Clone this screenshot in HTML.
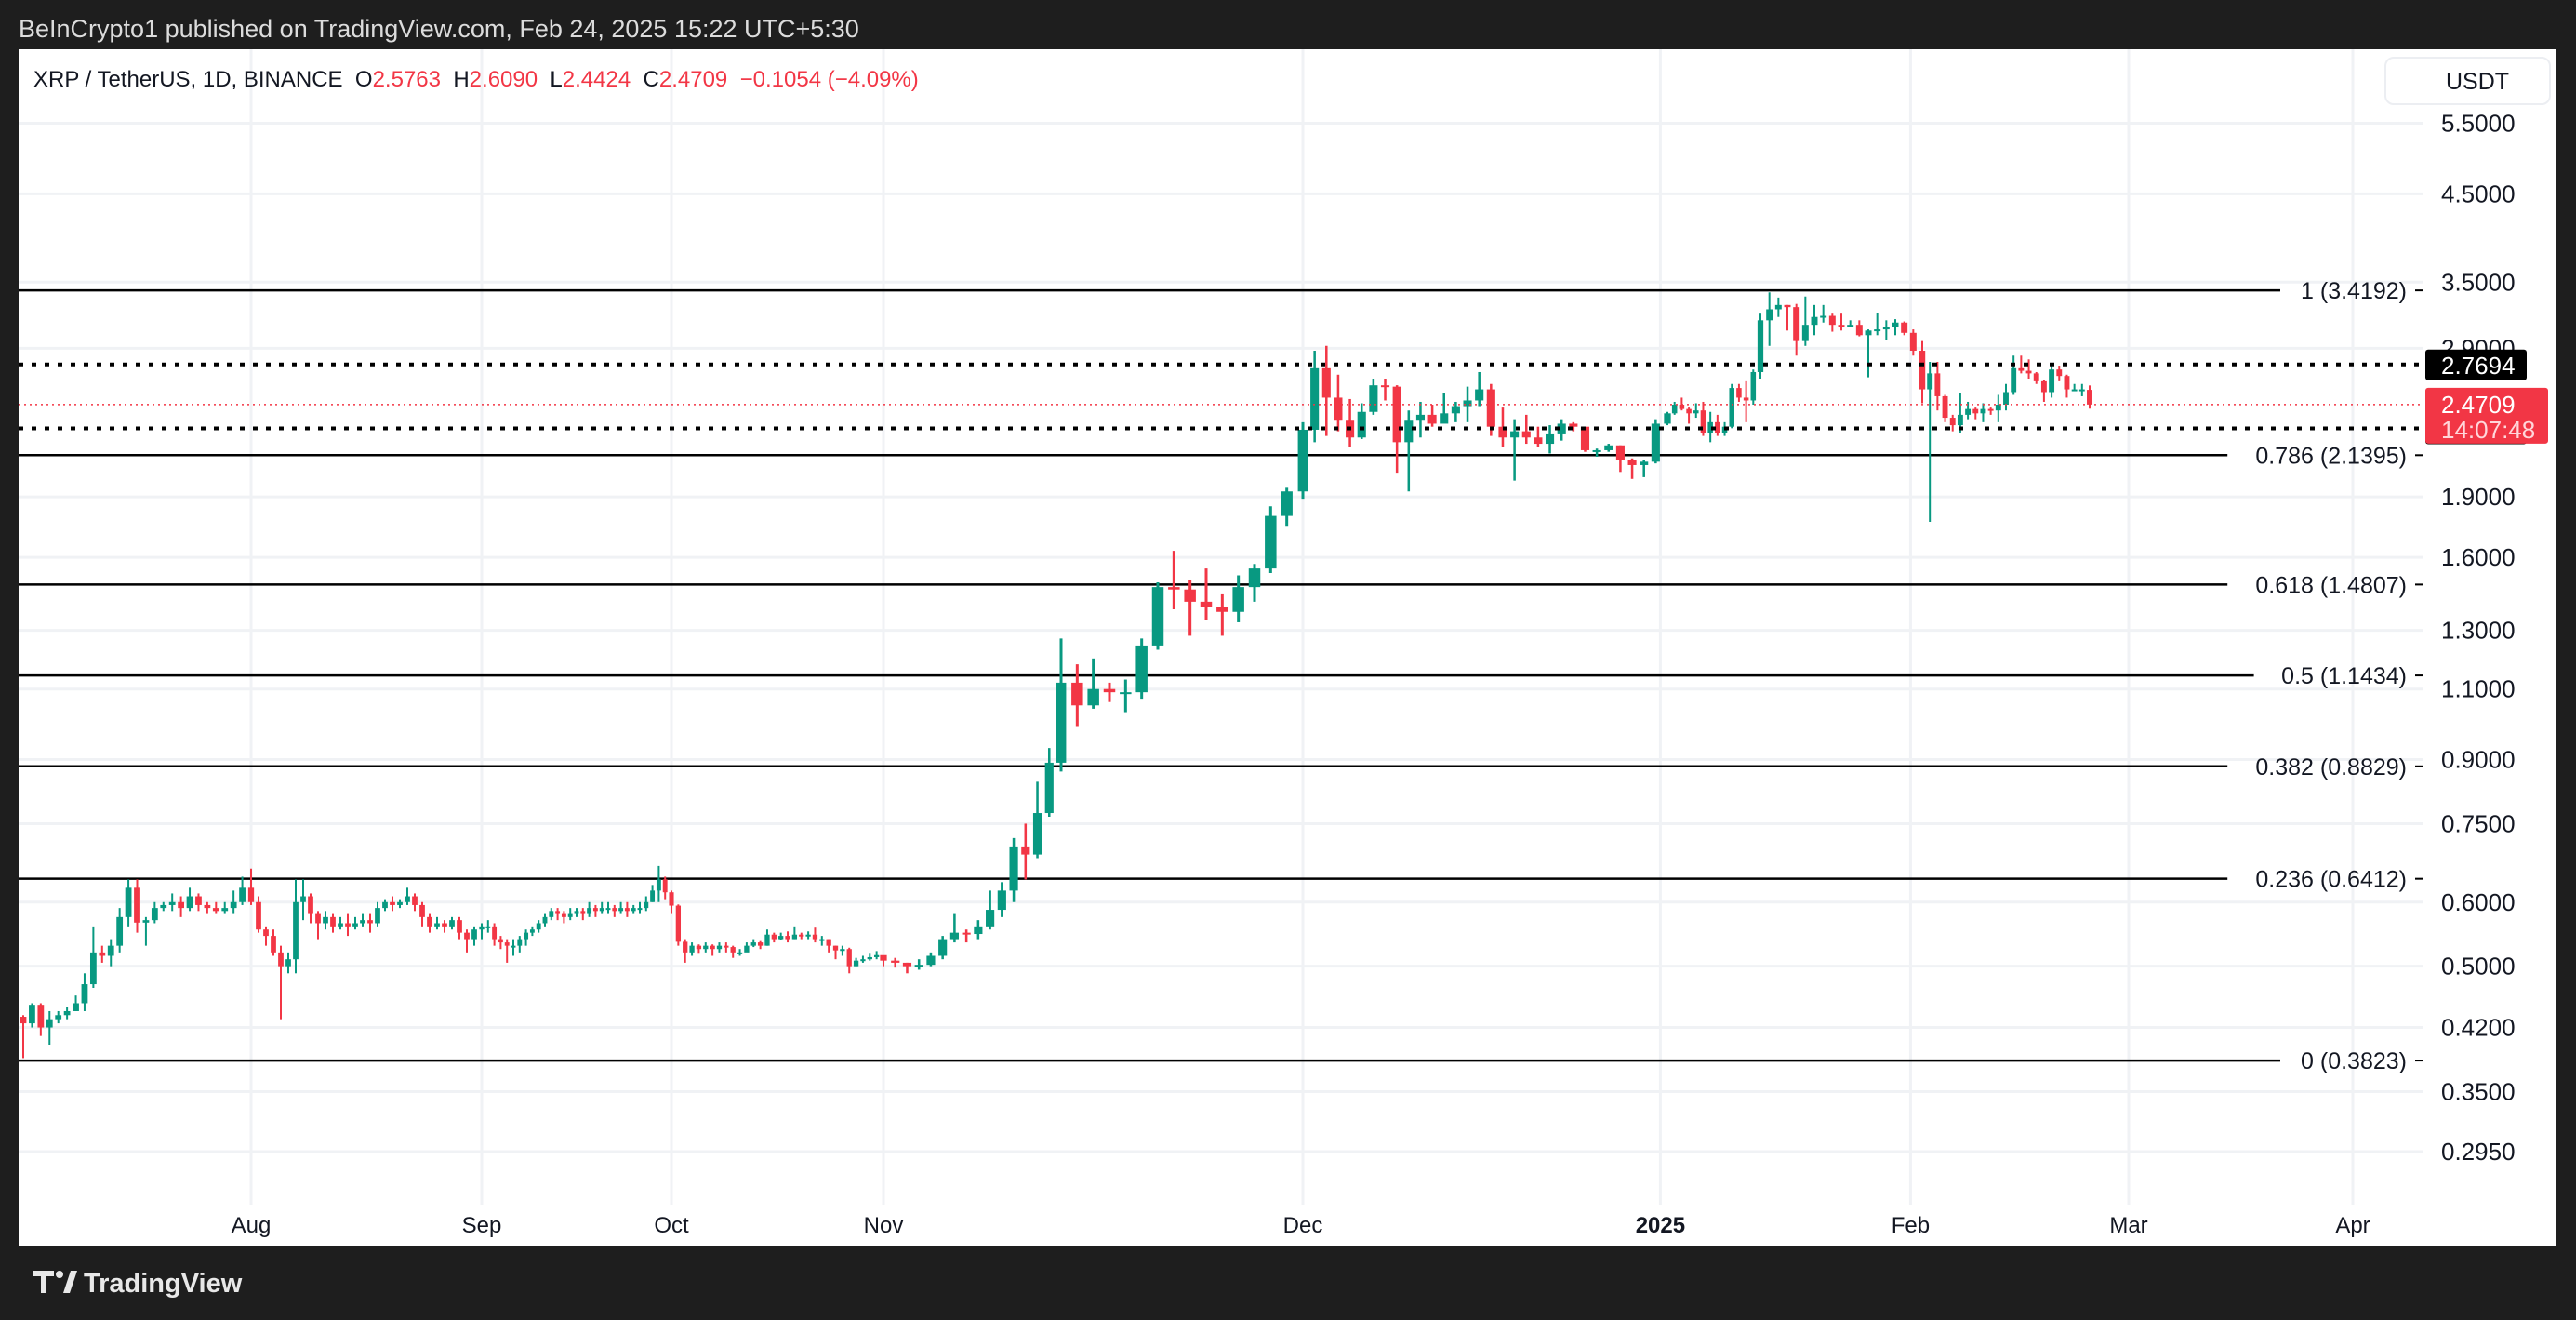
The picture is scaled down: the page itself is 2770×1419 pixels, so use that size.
<!DOCTYPE html>
<html><head><meta charset="utf-8"><style>
html,body{margin:0;padding:0;background:#1e1e1e;}
body{width:2770px;height:1414px;overflow:hidden;font-family:"Liberation Sans",sans-serif;}
svg text{font-family:"Liberation Sans",sans-serif;}
</style></head><body>
<svg id="chart" width="2770" height="1414" viewBox="0 0 2770 1414" xmlns="http://www.w3.org/2000/svg">
<rect x="0" y="0" width="2770" height="1414" fill="#1e1e1e"/>
<text x="20" y="40" font-size="27" fill="#dcdcdc">BeInCrypto1 published on TradingView.com, Feb 24, 2025 15:22 UTC+5:30</text>
<rect x="20" y="53" width="2729" height="1286" fill="#ffffff"/>
<g id="grid"></g>
<g id="fibs"></g>
<g id="candles"></g>
<g id="overlay"></g>
<g id="axis"></g>
<g id="taxis"></g>
<text x="36" y="93" font-size="24" fill="#131722" xml:space="preserve" style="white-space:pre">XRP / TetherUS, 1D, BINANCE  <tspan fill="#131722">O</tspan><tspan fill="#f23645">2.5763</tspan>  <tspan fill="#131722">H</tspan><tspan fill="#f23645">2.6090</tspan>  <tspan fill="#131722">L</tspan><tspan fill="#f23645">2.4424</tspan>  <tspan fill="#131722">C</tspan><tspan fill="#f23645">2.4709  −0.1054 (−4.09%)</tspan></text>
<rect x="2565" y="62" width="177" height="50" rx="9" fill="#fff" stroke="#eceef2" stroke-width="2"/>
<text x="2630" y="96" font-size="25" fill="#131722">USDT</text>
<g>
<path d="M36 1366 h22 v6 h-8 v18 h-6 v-18 h-8z" fill="#e8e8e8"/>
<circle cx="64" cy="1370" r="4" fill="#e8e8e8"/>
<path d="M68 1390 l8-24 h7 l-8 24z" fill="#e8e8e8"/>
<text x="90" y="1389" font-size="29" font-weight="bold" fill="#e8e8e8">TradingView</text>
</g>
</svg>
<script>
// ---- data ----
const opens0 = [0.433];
const closes = [
0.425,0.448,0.42,0.43,0.435,0.44,0.45,0.475,0.52,0.515,0.53,0.575,0.625,0.566,0.57,0.59,0.595,0.60,0.59,0.61,0.595,0.59,0.585,0.59,0.60,0.625,
0.60,0.555,0.545,0.52,0.50,0.51,0.60,0.61,0.58,0.565,0.575,0.56,0.565,0.56,0.565,0.57,0.565,0.59,0.60,0.595,0.60,0.61,0.595,0.575,0.56,0.565,0.56,0.57,0.55,0.54,0.555,
0.56,0.56,0.54,0.535,0.53,0.53,0.54,0.55,0.555,0.565,0.575,0.585,0.58,0.575,0.58,0.585,0.58,0.59,0.585,0.59,0.59,0.585,0.59,0.585,0.59,0.59,0.60,0.62,0.64,0.617,
0.594,0.536,0.52,0.53,0.525,0.53,0.525,0.53,0.528,0.52,0.52,0.53,0.535,0.53,0.547,0.54,0.545,0.54,0.547,0.545,0.547,0.54,0.54,0.53,0.523,0.525,0.50,0.508,0.51,0.513,0.516,
0.508,0.505,0.50,0.502,0.515,0.54,0.55,0.548,0.56,0.587,0.62,0.703,0.687,0.773,0.892,1.12,1.05,1.10,1.09,1.09,1.245,1.47,1.46,1.41,1.39,1.37,1.47,1.55,1.80,1.93,
2.30,2.74,2.52,2.36,2.25,2.42,2.61,2.60,2.22,2.36,2.40,2.34,2.41,2.46,2.50,2.58,2.32,2.25,2.29,2.25,2.21,2.27,2.34,2.32,2.17,2.17,2.20,2.11,2.08,2.10,2.34,
2.41,2.47,2.44,2.41,2.43,2.28,2.35,2.28,2.32,2.59,2.52,2.50,2.71,3.14,3.24,3.28,3.26,2.96,3.10,3.17,3.18,3.10,3.09,3.10,3.01,3.05,3.06,3.08,3.12,3.03,2.88,
2.58,2.70,2.53,2.38,2.33,2.40,2.44,2.41,2.44,2.43,2.47,2.56,2.74,2.72,2.70,2.64,2.56,2.73,2.68,2.58,2.58,2.58,2.4709];
const highs = [
0.435,0.45,0.45,0.44,0.44,0.445,0.46,0.49,0.56,0.53,0.54,0.59,0.64,0.64,0.575,0.60,0.60,0.615,0.61,0.625,0.615,0.60,0.60,0.60,0.62,0.645,
0.66,0.61,0.56,0.555,0.53,0.52,0.64,0.64,0.615,0.585,0.585,0.58,0.575,0.58,0.575,0.58,0.58,0.60,0.605,0.61,0.605,0.625,0.615,0.60,0.58,0.575,0.57,0.575,0.575,0.555,0.56,
0.565,0.57,0.565,0.545,0.54,0.54,0.545,0.555,0.56,0.57,0.58,0.59,0.59,0.585,0.59,0.59,0.59,0.60,0.595,0.60,0.60,0.595,0.60,0.60,0.595,0.60,0.61,0.63,0.665,0.645,
0.62,0.596,0.54,0.535,0.532,0.535,0.532,0.535,0.535,0.53,0.525,0.535,0.54,0.537,0.555,0.55,0.55,0.552,0.56,0.55,0.552,0.558,0.545,0.54,0.53,0.53,0.527,0.512,0.515,0.518,0.522,
0.515,0.512,0.505,0.51,0.52,0.545,0.58,0.555,0.57,0.62,0.635,0.72,0.75,0.845,0.93,1.27,1.18,1.20,1.12,1.13,1.27,1.49,1.63,1.50,1.55,1.44,1.52,1.57,1.85,1.95,
2.35,2.88,2.92,2.69,2.51,2.48,2.66,2.66,2.61,2.43,2.49,2.47,2.55,2.49,2.60,2.71,2.62,2.45,2.37,2.40,2.32,2.33,2.37,2.35,2.31,2.18,2.21,2.20,2.12,2.11,2.37,
2.42,2.49,2.52,2.45,2.48,2.49,2.42,2.40,2.35,2.62,2.62,2.64,2.73,3.20,3.40,3.35,3.28,3.29,3.36,3.28,3.28,3.20,3.20,3.14,3.14,3.06,3.21,3.14,3.15,3.13,3.06,
2.96,2.79,2.79,2.54,2.40,2.55,2.49,2.45,2.48,2.45,2.54,2.62,2.84,2.84,2.81,2.71,2.65,2.76,2.76,2.69,2.62,2.62,2.609];
const lows = [
0.385,0.42,0.41,0.40,0.425,0.43,0.44,0.44,0.47,0.505,0.50,0.52,0.56,0.55,0.53,0.565,0.585,0.585,0.575,0.585,0.585,0.58,0.58,0.58,0.58,0.595,
0.595,0.55,0.53,0.515,0.43,0.49,0.49,0.57,0.565,0.54,0.555,0.55,0.555,0.545,0.555,0.56,0.55,0.56,0.585,0.585,0.59,0.595,0.585,0.56,0.55,0.555,0.55,0.555,0.54,0.52,0.53,
0.54,0.55,0.53,0.525,0.505,0.515,0.52,0.53,0.545,0.55,0.56,0.57,0.57,0.565,0.57,0.575,0.57,0.575,0.575,0.58,0.58,0.575,0.58,0.575,0.58,0.58,0.585,0.60,0.60,0.605,
0.58,0.53,0.505,0.515,0.518,0.52,0.515,0.52,0.52,0.512,0.515,0.522,0.528,0.525,0.53,0.535,0.538,0.535,0.54,0.54,0.54,0.535,0.53,0.52,0.51,0.515,0.49,0.50,0.505,0.508,0.51,
0.50,0.498,0.49,0.495,0.50,0.51,0.535,0.535,0.54,0.555,0.575,0.60,0.64,0.68,0.765,0.87,0.99,1.04,1.06,1.03,1.07,1.23,1.38,1.28,1.34,1.28,1.33,1.41,1.53,1.75,
1.89,2.22,2.26,2.29,2.19,2.24,2.40,2.50,2.03,1.93,2.25,2.32,2.37,2.35,2.35,2.46,2.26,2.19,1.99,2.21,2.19,2.15,2.23,2.29,2.16,2.13,2.16,2.04,2.00,2.01,2.09,
2.33,2.40,2.43,2.34,2.38,2.26,2.22,2.26,2.26,2.31,2.49,2.35,2.47,2.66,2.92,3.17,3.05,2.84,2.92,3.01,3.12,3.04,3.05,3.08,3.00,2.67,3.01,2.97,3.01,3.01,2.84,
2.48,1.77,2.43,2.35,2.29,2.28,2.37,2.37,2.35,2.40,2.35,2.43,2.54,2.70,2.66,2.62,2.49,2.52,2.64,2.52,2.57,2.53,2.4424];
const priceTicks = [5.5,4.5,3.5,2.9,1.9,1.6,1.3,1.1,0.9,0.75,0.6,0.5,0.42,0.35,0.295];
const fibRatios = ["1","0.786","0.618","0.5","0.382","0.236","0"];
const fibPrices = [3.4192,2.1395,1.4807,1.1434,0.8829,0.6412,0.3823];
const levelPrices = [2.7694,2.3086];
const lastPrice = 2.4709;
const countdown = "14:07:48";
const monthLabels = ["Aug","Sep","Oct","Nov","Dec","2025","Feb","Mar","Apr"];
const monthIdx = [26,57,87,118,148,178.4,208.7,237,268];

// ---- axis functions ----
const NS="http://www.w3.org/2000/svg";
function y(p){return 132.5+(Math.log(5.5)-Math.log(p))*377.9;}
const xa=[[0,25],[26,270],[57,518],[87,722],[118,950],[133,1141],[148,1401],[179,1793],[192,1893],[210,2067],[232,2247],[237,2289],[268,2530]];
function x(i){
  for(let k=0;k<xa.length-1;k++){const a=xa[k],b=xa[k+1];
    if(i<=b[0]||k===xa.length-2){return a[1]+(i-a[0])*(b[1]-a[1])/(b[0]-a[0]);}}
}
function mk(tag,attrs,parent){const e=document.createElementNS(NS,tag);for(const k in attrs)e.setAttribute(k,attrs[k]);parent.appendChild(e);return e;}
const L=20,R=2606,T=53,B=1295;

// grid
const grid=document.getElementById('grid');
priceTicks.forEach(p=>{const l=mk('line',{x1:L,x2:R,y1:y(p),y2:y(p),stroke:'#f0f2f5','stroke-width':3},grid);

});
monthIdx.forEach(i=>{const l=mk('line',{x1:x(i),x2:x(i),y1:T,y2:B,stroke:'#f0f2f5','stroke-width':3},grid);

});

// fib lines
const fibs=document.getElementById('fibs');
fibPrices.forEach((p,k)=>{
  const txt=fibRatios[k]+" ("+p.toFixed(4)+")";
  const t=mk('text',{x:2588,y:y(p)+9,'font-size':25,fill:'#131722','text-anchor':'end'},fibs);
  t.textContent=txt;
  
  
  const w=txt.length*14.2;
  const ln=mk('line',{x1:L,x2:2588-w+6,y1:y(p),y2:y(p),stroke:'#000','stroke-width':2.5},fibs);
  
  
  const d=mk('line',{x1:2597,x2:2605,y1:y(p),y2:y(p),stroke:'#000','stroke-width':2},fibs);
  
  
});

// candles
const cg=document.getElementById('candles');
for(let i=0;i<closes.length;i++){
  const o=i===0?opens0[0]:(i===closes.length-1?2.5763:closes[i-1]);
  const c=closes[i],h=highs[i],lo=lows[i];
  const col=c>=o?'#089981':'#f23645';
  const sp=(x(i+1)-x(i-1))/2;
  const w=Math.max(3,sp*0.72);
  const cx=x(i);
  const wk=mk('line',{x1:cx,x2:cx,y1:y(h),y2:y(lo),stroke:col,'stroke-width':Math.max(2,Math.min(3,sp*0.2))},cg);
  
  
  const yt=Math.min(y(o),y(c)),yb=Math.max(y(o),y(c));
  const bd=mk('rect',{x:cx-w/2,y:yt,width:w,height:Math.max(2,yb-yt),fill:col},cg);
  
  
}

// overlay lines
const ov=document.getElementById('overlay');
levelPrices.forEach(p=>{const l=mk('line',{x1:L,x2:R,y1:y(p),y2:y(p),stroke:'#000','stroke-width':4,'stroke-dasharray':'5 9'},ov);

});
const pl=mk('line',{x1:L,x2:R,y1:y(lastPrice),y2:y(lastPrice),stroke:'#f23645','stroke-width':1.5,'stroke-dasharray':'2 4'},ov);



// price axis
const ax=document.getElementById('axis');
priceTicks.forEach(p=>{const t=mk('text',{x:2625,y:y(p)+9,'font-size':26,fill:'#131722'},ax);
t.textContent=p.toFixed(4);

});
levelPrices.forEach(p=>{
  const r=mk('rect',{x:2608,y:y(p)-16,width:109,height:33,rx:3,fill:'#000'},ax);
  
  
  const t=mk('text',{x:2625,y:y(p)+10,'font-size':26,fill:'#fff'},ax);
  t.textContent=p.toFixed(4);
  
  
});
const lr=mk('rect',{x:2608,y:y(lastPrice)-18,width:132,height:60,rx:3,fill:'#f23645'},ax);


const lt=mk('text',{x:2625,y:y(lastPrice)+9,'font-size':26,fill:'#fff'},ax);
lt.textContent=lastPrice.toFixed(4);


const ct=mk('text',{x:2625,y:y(lastPrice)+36,'font-size':26,fill:'#ffd6da'},ax);
ct.textContent=countdown;



// time axis
const ta=document.getElementById('taxis');
monthLabels.forEach((m,k)=>{const t=mk('text',{x:x(monthIdx[k]),y:1325,'font-size':24,fill:'#131722','text-anchor':'middle','font-weight':m==='2025'?'bold':'normal'},ta);
t.textContent=m;

});
</script>
</body></html>
